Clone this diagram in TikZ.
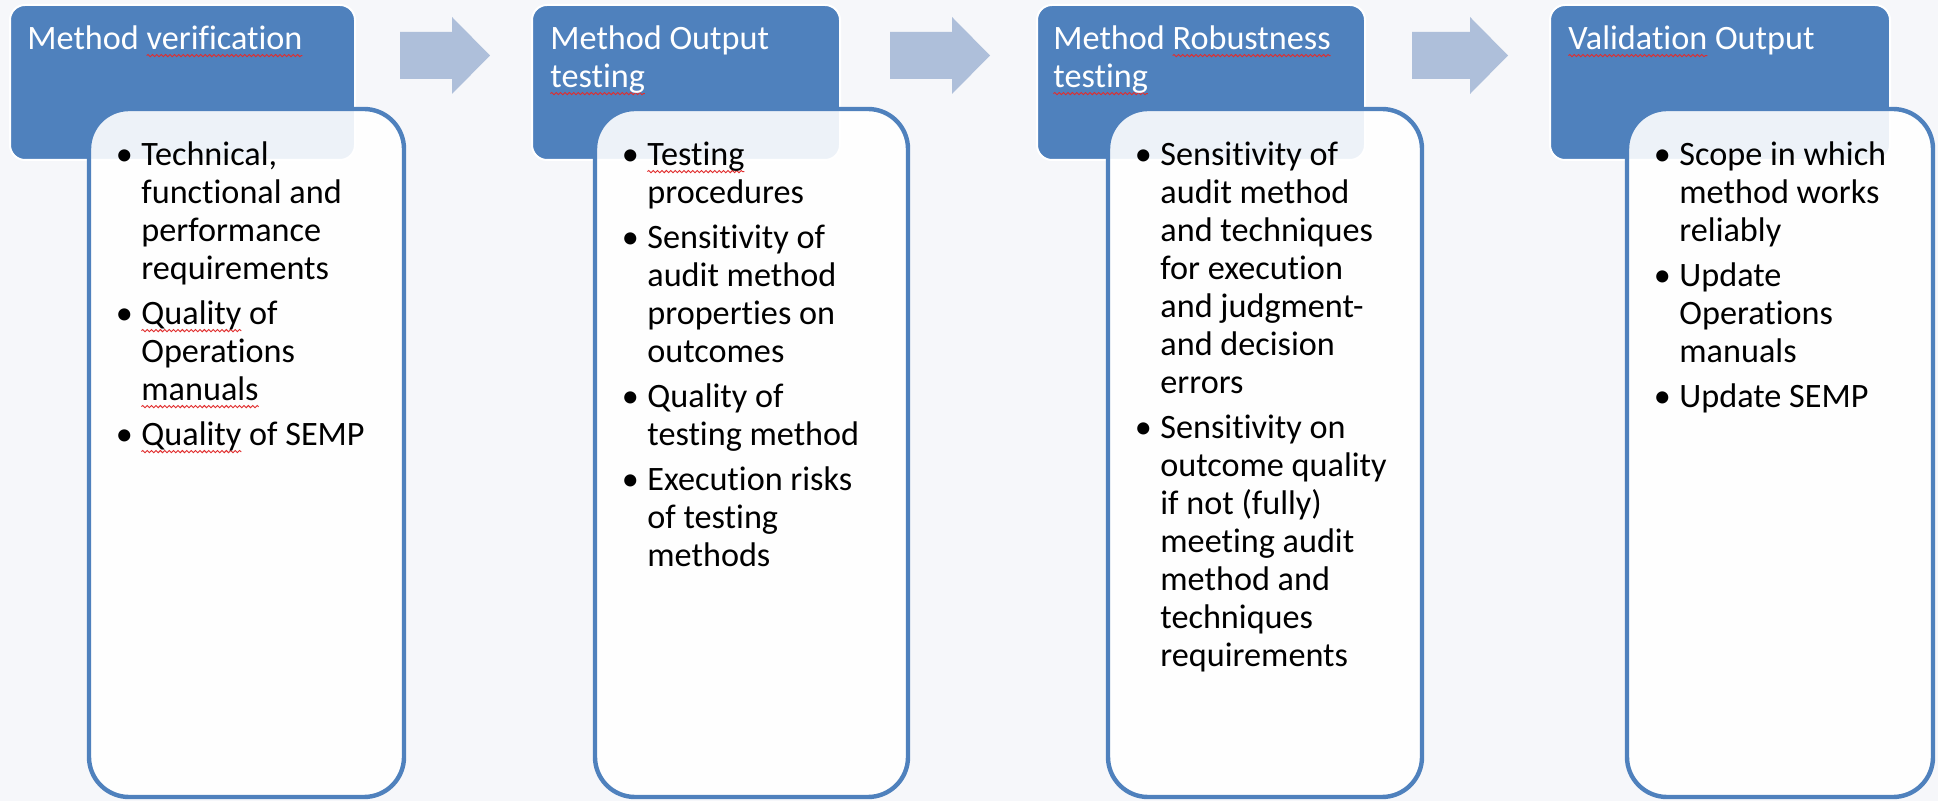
\documentclass[tikz,border=0pt]{standalone}
\usepackage{fontspec}
\setmainfont{Carlito}[Ligatures={NoCommon}]
\usetikzlibrary{decorations.pathmorphing}
\definecolor{bg}{RGB}{246,247,250}
\definecolor{hdr}{RGB}{79,129,189}
\definecolor{arr}{RGB}{174,191,218}
\definecolor{sqred}{RGB}{225,45,45}
\newdimen\sqw
\newsavebox\sqbox
\newcommand\sq[1]{\sbox\sqbox{#1}\global\sqw=\wd\sqbox\makebox[0pt][l]{\tikz[overlay,x=1pt,y=1pt]\draw[sqred,line width=0.45pt,decorate,decoration={snake,amplitude=0.55pt,segment length=2.2pt}] (0,-2.8) -- (\sqw,-2.8);}\usebox\sqbox}
\newcommand\itm{\makebox[17pt][c]{•}}
\tikzset{
  hdrbox/.style={fill=hdr, draw=white, line width=1pt, rounded corners=7.5pt},
  bodybox/.style={fill=white, fill opacity=0.9, draw=hdr, line width=2.2pt, rounded corners=20pt},
  arrowshape/.style={fill=arr, draw=none},
  ttl/.style={anchor=base west, inner sep=0pt, text=white, font=\fontsize{17.1}{19}\selectfont},
  bdy/.style={anchor=base west, inner sep=0pt, text=black, font=\fontsize{17.1}{19}\selectfont}
}
\begin{document}
\begin{tikzpicture}[x=0.5pt,y=-0.5pt]
\useasboundingbox (0,0) rectangle (1938,801);
\fill[bg] (0,0) rectangle (1938,801);

% arrows
\fill[arrowshape] (400,32) -- (452,32) -- (452,17) -- (490,55.5) -- (452,94) -- (452,79) -- (400,79) -- cycle;
\fill[arrowshape] (890,32) -- (952,32) -- (952,17) -- (990,55.5) -- (952,94) -- (952,79) -- (890,79) -- cycle;
\fill[arrowshape] (1412,32) -- (1470,32) -- (1470,17) -- (1508,55.5) -- (1470,94) -- (1470,79) -- (1412,79) -- cycle;

% headers
\draw[hdrbox] (10,5) rectangle (355,160);
\draw[hdrbox] (532,5) rectangle (840,160);
\draw[hdrbox] (1037,5) rectangle (1365,160);
\draw[hdrbox] (1550,5) rectangle (1890,160);

% white boxes
\draw[bodybox] (89,109) rectangle (404,797);
\draw[bodybox] (595,109) rectangle (908,797);
\draw[bodybox] (1108,109) rectangle (1422,797);
\draw[bodybox] (1627,109) rectangle (1933,797);

% titles
\node[ttl] (t1) at (27,50) {\begin{tabular}[t]{@{}l@{}}Method \sq{verification}\end{tabular}};
\node[ttl] (t2) at (550,50) {\begin{tabular}[t]{@{}l@{}}Method Output\\ \sq{testing}\end{tabular}};
\node[ttl] (t3) at (1053,50) {\begin{tabular}[t]{@{}l@{}}Method \sq{Robustness}\\ \sq{testing}\end{tabular}};
\node[ttl] (t4) at (1568,50) {\begin{tabular}[t]{@{}l@{}}\sq{Validation} Output\end{tabular}};

% bodies
\node[bdy] (b1) at (107,166) {\begin{tabular}[t]{@{}l@{}l@{}}
\itm & Technical,\\
 & functional and\\
 & performance\\
 & requirements\\[3.5pt]
\itm & \sq{Quality} of\\
 & Operations\\
 & \sq{manuals}\\[3.5pt]
\itm & \sq{Quality} of SEMP
\end{tabular}};

\node[bdy] (b2) at (613,166) {\begin{tabular}[t]{@{}l@{}l@{}}
\itm & \sq{Testing}\\
 & procedures\\[3.5pt]
\itm & Sensitivity of\\
 & audit method\\
 & properties on\\
 & outcomes\\[3.5pt]
\itm & Quality of\\
 & testing method\\[3.5pt]
\itm & Execution risks\\
 & of testing\\
 & methods
\end{tabular}};

\node[bdy] (b3) at (1126,166) {\begin{tabular}[t]{@{}l@{}l@{}}
\itm & Sensitivity of\\
 & audit method\\
 & and techniques\\
 & for execution\\
 & and judgment-\\
 & and decision\\
 & errors\\[3.5pt]
\itm & Sensitivity on\\
 & outcome quality\\
 & if not (fully)\\
 & meeting audit\\
 & method and\\
 & techniques\\
 & requirements
\end{tabular}};

\node[bdy] (b4) at (1645,166) {\begin{tabular}[t]{@{}l@{}l@{}}
\itm & Scope in which\\
 & method works\\
 & reliably\\[3.5pt]
\itm & Update\\
 & Operations\\
 & manuals\\[3.5pt]
\itm & Update SEMP
\end{tabular}};
\end{tikzpicture}
\end{document}
